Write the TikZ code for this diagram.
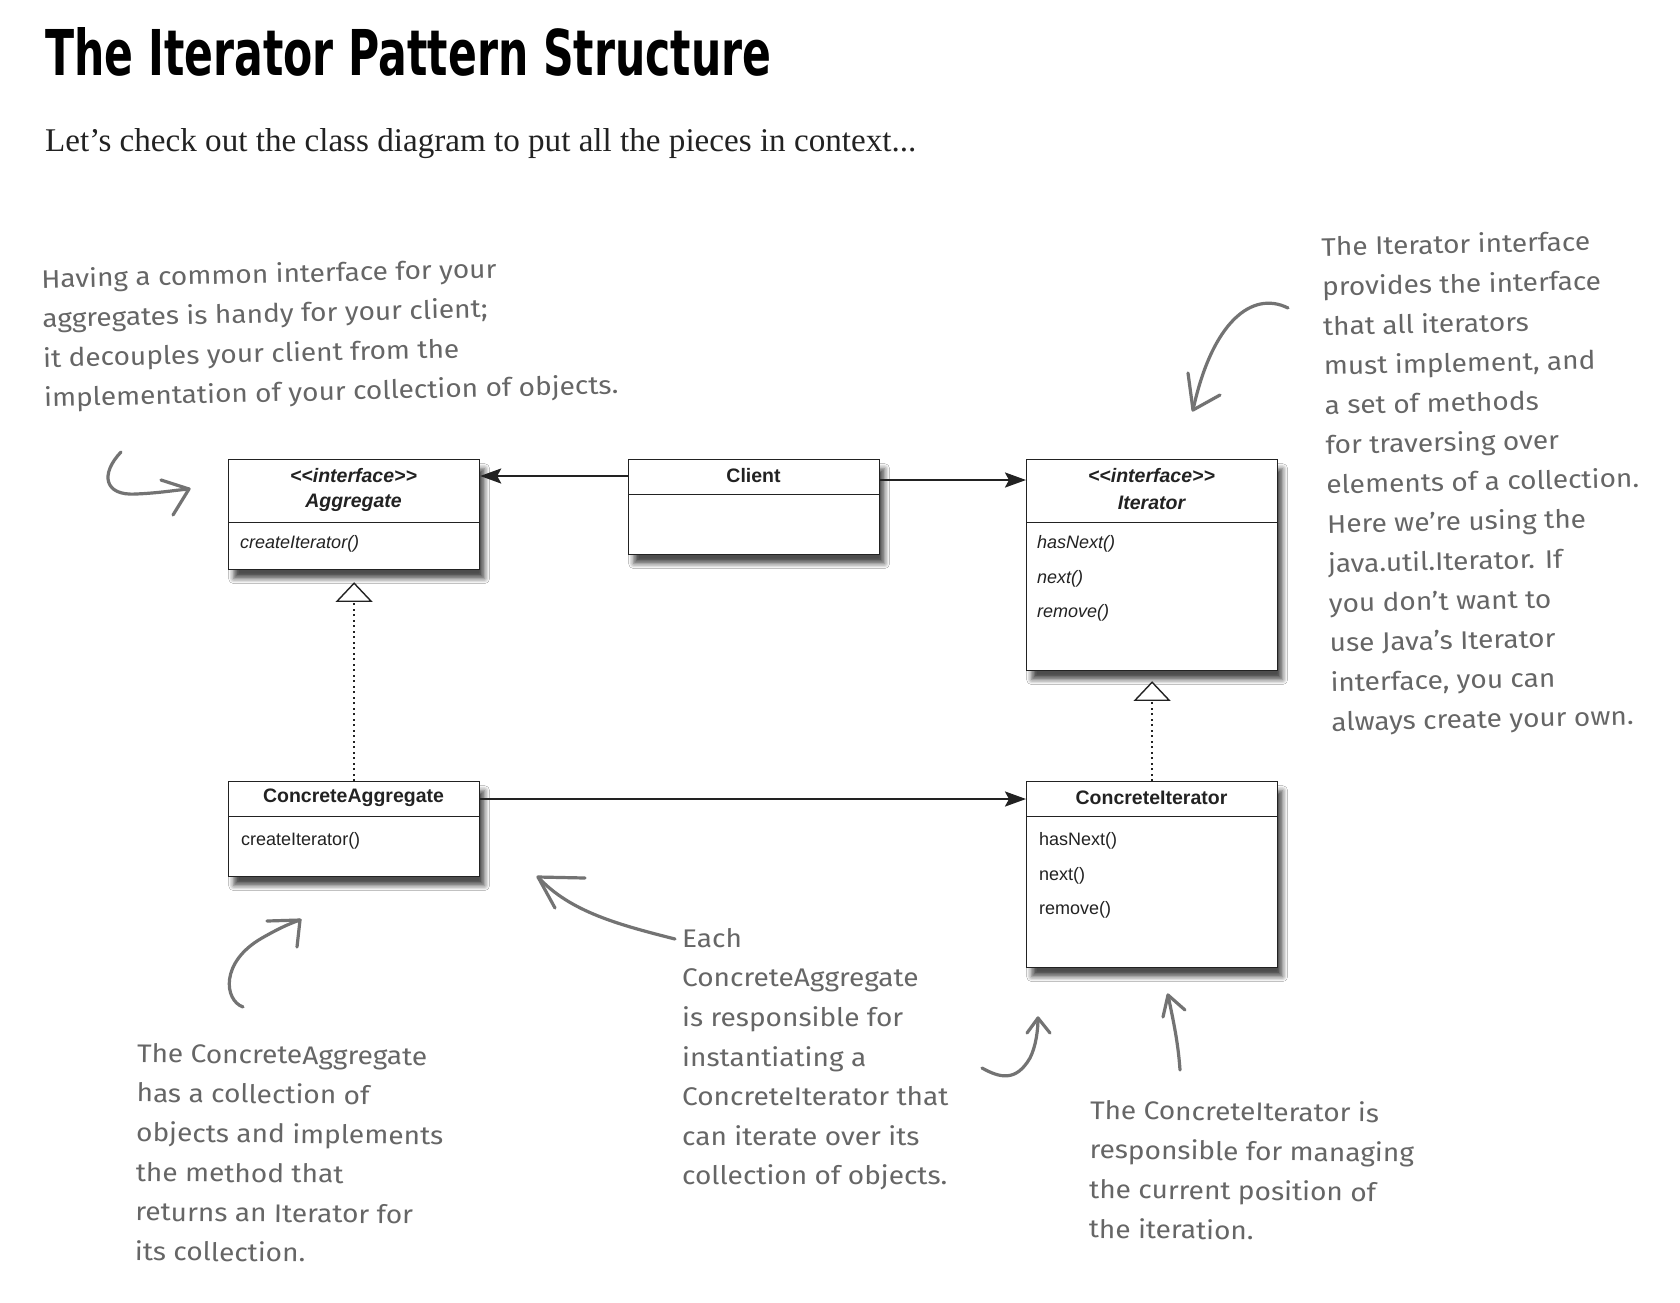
\documentclass[tikz,border=0pt]{standalone}
\usepackage{fontspec}
\usepackage{graphicx}
\usetikzlibrary{arrows.meta,shadows.blur}
\setmainfont{Liberation Serif}
\newfontfamily\umlfont{Liberation Sans}
\newfontfamily\notefont[FakeStretch=1.1]{Fira Sans}
\newfontfamily\titlefont{DejaVu Sans}
\definecolor{notegray}{HTML}{666666}
\definecolor{handgray}{HTML}{737373}
\definecolor{ink}{HTML}{222222}
\begin{document}
\begin{tikzpicture}[x=1pt,y=-1pt,
  classbox/.style={draw=ink, line width=1.2pt, fill=white, rectangle, inner sep=0pt, anchor=north west,
    blur shadow={shadow xshift=5pt, shadow yshift=-9pt, shadow blur radius=5pt, shadow opacity=70}},
  divider/.style={line width=1pt, draw=ink},
  cname/.style={font=\umlfont\bfseries\fontsize{19.5}{22}\selectfont, text=ink, inner sep=0pt, anchor=center},
  ciname/.style={font=\umlfont\bfseries\itshape\fontsize{19.5}{22}\selectfont, text=ink, inner sep=0pt, anchor=center},
  meth/.style={font=\umlfont\fontsize{18}{22}\selectfont, text=ink, inner sep=0pt, anchor=west},
  imeth/.style={font=\umlfont\itshape\fontsize{18}{22}\selectfont, text=ink, inner sep=0pt, anchor=west},
  conn/.style={line width=2.4pt, draw=ink, -{Stealth[length=21pt,width=15pt,inset=4pt]}},
  realize/.style={line width=1.8pt, draw=ink, dash pattern=on 2pt off 3.5pt},
  tri/.style={line width=1.4pt, draw=ink, fill=white, line join=miter},
  hand/.style={line width=3.2pt, draw=handgray, line cap=round, line join=round},
  note/.style={font=\notefont\fontsize{25.5}{39.6}\selectfont, text=notegray, align=left, inner sep=0pt, anchor=north west}
]
\useasboundingbox[fill=white] (0,0) rectangle (1680,1302);

% Title and subtitle
\node[anchor=south west, inner sep=0pt] (title) at (45,77)
  {\resizebox{726pt}{48pt}{\titlefont\bfseries The Iterator Pattern Structure}};
\node[anchor=base west, inner sep=0pt, text=ink] (sub) at (45,151)
  {\resizebox{871pt}{!}{Let’s check out the class diagram to put all the pieces in context...}};

% Class boxes
\node[classbox, minimum width=251pt, minimum height=110pt] (agg) at (228,459) {};
\node[classbox, minimum width=251pt, minimum height=95pt] (client) at (628,459) {};
\node[classbox, minimum width=251pt, minimum height=211pt] (iter) at (1026,459) {};
\node[classbox, minimum width=251pt, minimum height=95pt] (cagg) at (228,781) {};
\node[classbox, minimum width=251pt, minimum height=186pt] (citer) at (1026,781) {};

% dividers
\draw[divider] ([yshift=-63pt]agg.north west) -- ([yshift=-63pt]agg.north east);
\draw[divider] ([yshift=-35pt]client.north west) -- ([yshift=-35pt]client.north east);
\draw[divider] ([yshift=-63pt]iter.north west) -- ([yshift=-63pt]iter.north east);
\draw[divider] ([yshift=-35pt]cagg.north west) -- ([yshift=-35pt]cagg.north east);
\draw[divider] ([yshift=-35pt]citer.north west) -- ([yshift=-35pt]citer.north east);

% class texts
\node[ciname] (aggst) at (353.5,476) {<<interface>>};
\node[ciname] (aggnm) at (353.5,503) {Aggregate};
\node[imeth] (aggm1) at (240,544) {createIterator()};
\node[cname] (clnm) at (753.5,476) {Client};
\node[ciname] (iterst) at (1151.5,476) {<<interface>>};
\node[ciname] (iternm) at (1151.5,503) {Iterator};
\node[imeth] (iterm1) at (1037,544) {hasNext()};
\node[imeth] (iterm2) at (1037,579) {next()};
\node[imeth] (iterm3) at (1037,613) {remove()};
\node[cname] (caggnm) at (353.5,798) {ConcreteAggregate};
\node[meth] (caggm1) at (241,841) {createIterator()};
\node[cname] (citernm) at (1151.5,798) {ConcreteIterator};
\node[meth] (citerm1) at (1039,841) {hasNext()};
\node[meth] (citerm2) at (1039,876) {next()};
\node[meth] (citerm3) at (1039,910) {remove()};

% associations
\draw[conn] ([yshift=-17pt]client.north west) -- ([yshift=-17pt]agg.north east);
\draw[conn] ([yshift=-21pt]client.north east) -- ([yshift=-21pt]iter.north west);
\draw[conn] ([yshift=-18pt]cagg.north east) -- ([yshift=-18pt]citer.north west);

% realizations
\draw[realize] (cagg.north) -- ([yshift=-31pt]agg.south);
\draw[tri] ([yshift=-13pt]agg.south) -- ++(-17,18) -- ++(34,0) -- cycle;
\draw[realize] (citer.north) -- ([yshift=-28pt]iter.south);
\draw[tri] ([yshift=-11pt]iter.south) -- ++(-17,18) -- ++(34,0) -- cycle;

% notes
\node[note, rotate=1.3] (ntl) at (41,268) {Having a common interface for your\\aggregates is handy for your client;\\it decouples your client from the\\implementation of your collection of objects.};
\node[note, rotate=1.2] (ntr) at (1321,236) {The Iterator interface\\provides the interface\\that all iterators\\must implement, and\\a set of methods\\for traversing over\\elements of a collection.\\Here we’re using the\\java.util.Iterator. If\\you don’t want to\\use Java’s Iterator\\interface, you can\\always create your own.};
\node[note, rotate=-0.6] (nbl) at (137,1043) {The ConcreteAggregate\\has a collection of\\objects and implements\\the method that\\returns an Iterator for\\its collection.};
\node[note] (nbm) at (682,928) {Each\\ConcreteAggregate\\is responsible for\\instantiating a\\ConcreteIterator that\\can iterate over its\\collection of objects.};
\node[note, rotate=-0.6] (nbr) at (1090,1099) {The ConcreteIterator is\\responsible for managing\\the current position of\\the iteration.};

% hand-drawn arrows
\coordinate (a1s) at (121,452); \coordinate (a1t) at (189,489);
\draw[hand] (a1s) .. controls (100,474) and (104,496) .. (136,494) .. controls (160,493) and (176,490) .. (a1t);
\draw[hand] (161,480) -- (a1t) -- (173,515);

\coordinate (a2s) at (1288,308); \coordinate (a2t) at (1193,410);
\draw[hand] (a2s) .. controls (1252,290) and (1212,322) .. (a2t);
\draw[hand] (1188,373) -- (a2t) -- (1220,395);

\coordinate (a3s) at (243,1007); \coordinate (a3t) at (300,920);
\draw[hand] (a3s) .. controls (224,1000) and (220,962) .. (262,938) .. controls (276,930) and (288,924) .. (a3t);
\draw[hand] (267,921) -- (a3t) -- (297,947);

\coordinate (a4s) at (675,939); \coordinate (a4t) at (538,877);
\draw[hand] (a4s) .. controls (620,925) and (570,912) .. (a4t);
\draw[hand] (585,878) -- (a4t) -- (555,908);

\coordinate (a5s) at (982,1068); \coordinate (a5t) at (1038,1018);
\draw[hand] (a5s) .. controls (1000,1078) and (1016,1082) .. (1030,1058) .. controls (1036,1046) and (1038,1030) .. (a5t);
\draw[hand] (1027,1033) -- (a5t) -- (1050,1033);

\coordinate (a6s) at (1180,1070); \coordinate (a6t) at (1168,995);
\draw[hand] (a6s) .. controls (1178,1040) and (1172,1015) .. (a6t);
\draw[hand] (1163,1017) -- (a6t) -- (1185,1010);
\end{tikzpicture}
\end{document}
